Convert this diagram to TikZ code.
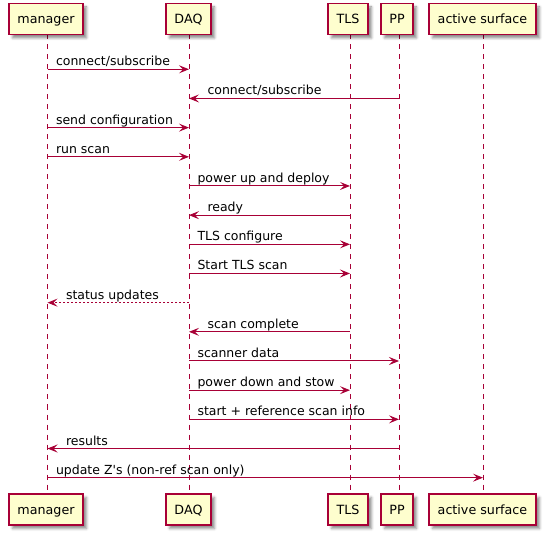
\documentclass[tikz,border=0pt]{standalone}
\usepackage{fontspec}
\setmainfont{DejaVu Sans}[Ligatures=TeXOff]
\usetikzlibrary{arrows.meta,shadows.blur}
\definecolor{pumlred}{HTML}{A80036}
\definecolor{pumlfill}{HTML}{FEFECE}
\tikzset{
  part/.style={draw=pumlred, fill=pumlfill, line width=1.3pt, inner sep=0pt,
    minimum height=31pt, text height=12pt, text depth=2pt, font=\fontsize{12.7}{15}\selectfont,
    blur shadow={shadow xshift=3.5pt, shadow yshift=-3.5pt, shadow blur radius=2.5pt, shadow opacity=45}},
  life/.style={draw=pumlred, line width=0.8pt, dash pattern=on 5pt off 5pt},
  msg/.style={draw=pumlred, line width=1pt, -{Stealth[length=10pt,width=8pt,inset=4pt]}},
  ret/.style={msg, dash pattern=on 2pt off 2pt},
  lr/.style={pos=0, anchor=base west, xshift=8pt, yshift=3.5pt, inner sep=0pt, font=\fontsize{12.5}{15}\selectfont, text=black},
  rl/.style={pos=1, anchor=base west, xshift=18pt, yshift=3.5pt, inner sep=0pt, font=\fontsize{12.5}{15}\selectfont, text=black},
}
\begin{document}
\begin{tikzpicture}[x=1pt,y=-1pt]
\useasboundingbox (0,0) rectangle (546,534);
\foreach \n/\x in {m/47.5,d/189,t/350,p/399,a/483}{
  \foreach \i in {1,...,15}{
    \coordinate (\n\i) at (\x,{69.3+29.17*(\i-1)});
  }
}
% lifelines
\foreach \n/\x in {m/47.5,d/189,t/350,p/399,a/483}{
  \coordinate (\n top) at (\x,34.5);
  \coordinate (\n bot) at (\x,494);
  \draw[life] (\n top) -- (\n bot);
}
% participants
\foreach \s/\y in {T/19,B/509.5}{
  \node[part, minimum width=74pt] (m\s) at (46,\y) {manager};
  \node[part, minimum width=45pt] (d\s) at (188.5,\y) {DAQ};
  \node[part, minimum width=40pt] (t\s) at (348,\y) {TLS};
  \node[part, minimum width=32pt] (p\s) at (397,\y) {PP};
  \node[part, minimum width=107pt] (a\s) at (482.5,\y) {active surface};
}
% messages
\draw[msg] (m1) -- (d1) node[lr] {connect/subscribe};
\draw[msg] (p2) -- (d2) node[rl] {connect/subscribe};
\draw[msg] (m3) -- (d3) node[lr] {send configuration};
\draw[msg] (m4) -- (d4) node[lr] {run scan};
\draw[msg] (d5) -- (t5) node[lr] {power up and deploy};
\draw[msg] (t6) -- (d6) node[rl] {ready};
\draw[msg] (d7) -- (t7) node[lr] {TLS configure};
\draw[msg] (d8) -- (t8) node[lr] {Start TLS scan};
\draw[ret] (d9) -- (m9) node[rl] {status updates};
\draw[msg] (t10) -- (d10) node[rl] {scan complete};
\draw[msg] (d11) -- (p11) node[lr] {scanner data};
\draw[msg] (d12) -- (t12) node[lr] {power down and stow};
\draw[msg] (d13) -- (p13) node[lr] {start + reference scan info};
\draw[msg] (p14) -- (m14) node[rl] {results};
\draw[msg] (m15) -- (a15) node[lr] {update Z's (non-ref scan only)};
\end{tikzpicture}
\end{document}
